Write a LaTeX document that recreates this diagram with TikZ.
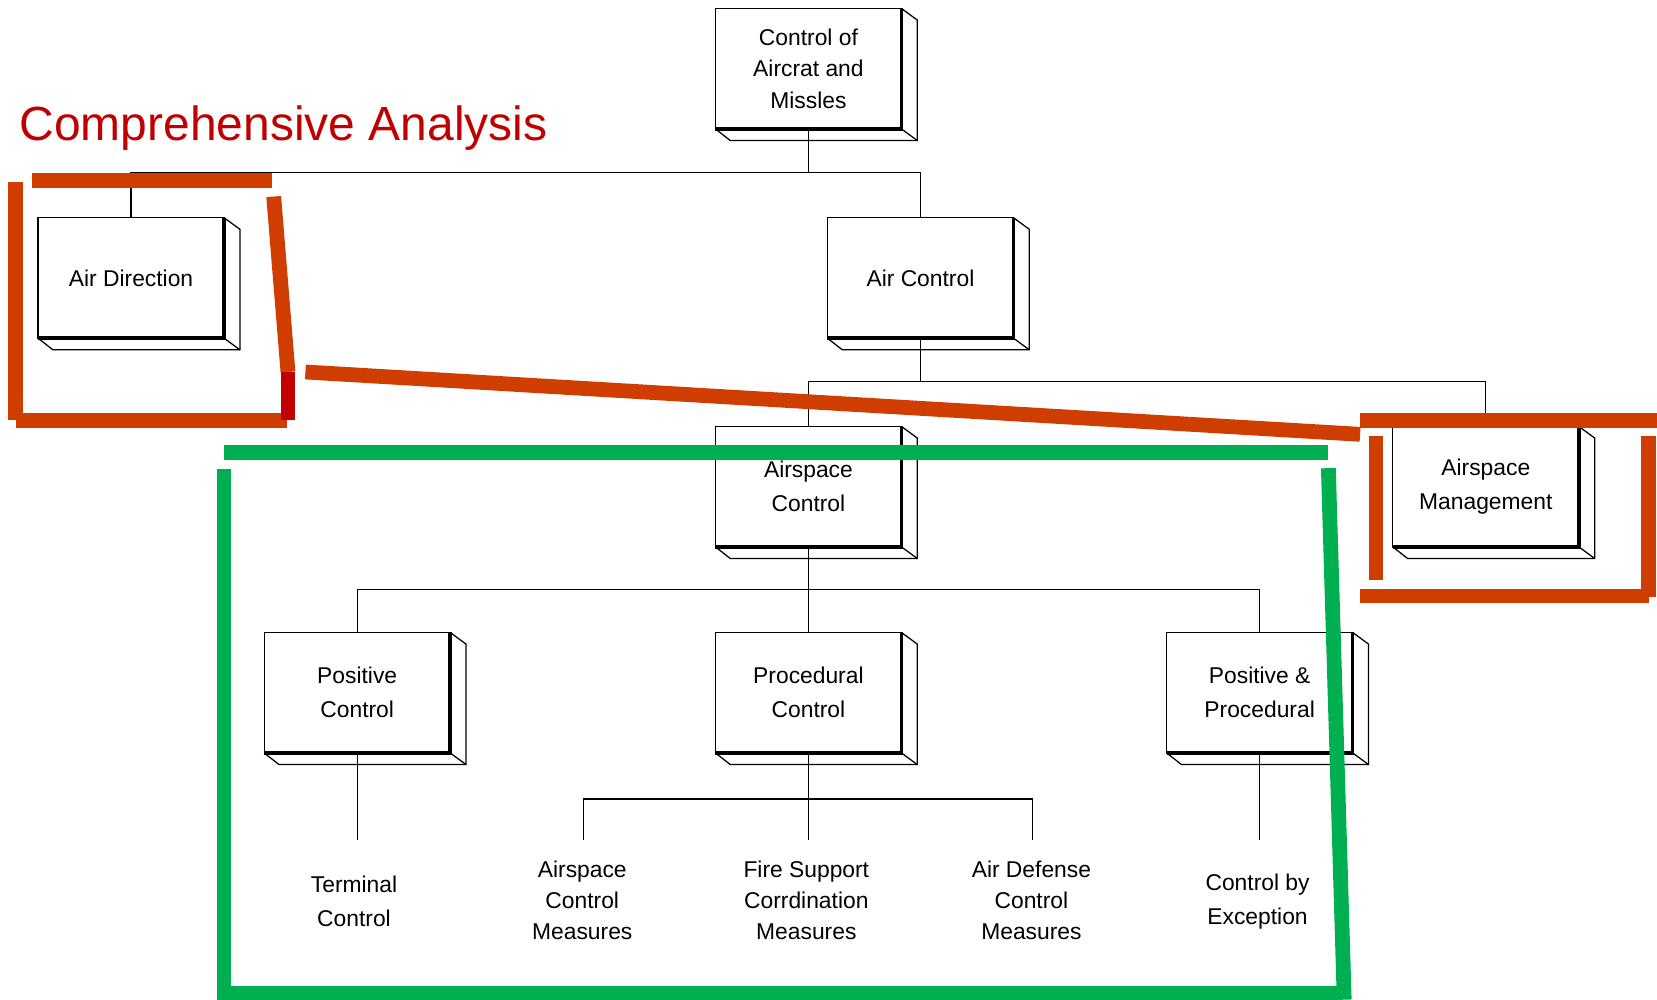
\documentclass[tikz,border=0pt]{standalone}
\usepackage{fontspec}
\setmainfont{Liberation Sans}
\usetikzlibrary{calc}
\definecolor{annred}{RGB}{207,62,0}
\definecolor{annderk}{RGB}{192,0,0}
\definecolor{anngreen}{RGB}{0,176,80}
\definecolor{titlered}{RGB}{192,0,0}
\tikzset{
  box/.style={draw, line width=0.6pt, minimum width=88pt, minimum height=57pt, inner sep=0pt, outer sep=0pt, align=center, font=\fontsize{10.8}{16.2}\selectfont},
  leaf/.style={align=center, inner sep=0pt, font=\fontsize{10.8}{15}\selectfont},
  conn/.style={line width=0.6pt},
  thickedge/.style={line width=1.6pt},
  bar/.style={line width=7pt},
}
\newcommand\boxdepth[1]{%
  \draw[conn] (#1.north east) -- ++(15,11) -- ($(#1.south east)+(15,11)$) -- ($(#1.south west)+(14,11)$) -- (#1.south west);
  \draw[conn] (#1.south east) -- ++(15,11);
  \draw[thickedge] (#1.north east) -- (#1.south east) -- (#1.south west);
}
\begin{document}
\begin{tikzpicture}[x=0.5pt,y=-0.5pt]
\useasboundingbox (0,0) rectangle (1568,946);

% title
\node[anchor=base west, inner sep=0pt, text=titlered, font=\fontsize{22.7}{26}\selectfont] (title) at (18,133) {Comprehensive Analysis};

% boxes
\node[box, font=\fontsize{10.8}{14.8}\selectfont] (top) at (765,65) {Control of\\Aircrat and\\Missles};
\node[box] (airdir) at (124,263) {Air Direction};
\node[box] (airctl) at (871,263) {Air Control};
\node[box] (aspctl) at (765,460.5) {Airspace\\Control};
\node[box] (aspmgt) at (1406,460.5) {Airspace\\Management};
\node[box] (posctl) at (338,655.5) {Positive\\Control};
\node[box] (procctl) at (765,655.5) {Procedural\\Control};
\node[box] (pospro) at (1192,655.5) {Positive \&\\Procedural};
\foreach \n in {top,airdir,airctl,aspctl,aspmgt,posctl,procctl,pospro} {\boxdepth{\n}}

% leaf texts
\node[leaf, font=\fontsize{10.8}{16}\selectfont] (term) at (335,853) {Terminal\\Control};
\node[leaf, font=\fontsize{10.8}{14.8}\selectfont] (acm) at (551,852) {Airspace\\Control\\Measures};
\node[leaf, font=\fontsize{10.8}{14.8}\selectfont] (fscm) at (763,852) {Fire Support\\Corrdination\\Measures};
\node[leaf, font=\fontsize{10.8}{14.8}\selectfont] (adcm) at (976,852) {Air Defense\\Control\\Measures};
\node[leaf, font=\fontsize{10.8}{16}\selectfont] (cbe) at (1190,853) {Control by\\Exception};

% connectors
\coordinate (b1) at (765,163);
\coordinate (b2) at (871,361);
\coordinate (b3) at (765,558);
\coordinate (b4) at (765,756);
\coordinate (e0) at (338,795);
\coordinate (e1) at (552,795);
\coordinate (e2) at (765,795);
\coordinate (e3) at (977,795);
\coordinate (e4) at (1192,795);
\draw[conn] (top.south) -- (b1);
\draw[conn] (airdir.north) |- (b1) -| (airctl.north);
\draw[conn] (airctl.south) -- (b2);
\draw[conn] (aspctl.north) |- (b2) -| (aspmgt.north);
\draw[conn] (aspctl.south) -- (procctl.north);
\draw[conn] (posctl.north) |- (b3) -| (pospro.north);
\draw[conn] (posctl.south) -- (e0);
\draw[conn] (procctl.south) -- (e2);
\draw[conn] (e1) |- (b4) -| (e3);
\draw[conn] (pospro.south) -- (e4);

% orange-red annotation (left group)
\draw[bar, annred] (30,171) -- (257,171);
\draw[bar, annred] (15,172) -- (15,397);
\draw[bar, annred] (15,398) -- (272,398);
\draw[bar, annred] (259,186) -- (272.5,352);
\draw[bar, annderk] (272.5,352) -- (272.5,397);
\draw[bar, annred] (289,352) -- (1287,411);
% right group
\draw[bar, annred] (1287,398) -- (1568,398);
\draw[bar, annred] (1302,413) -- (1302,549);
\draw[bar, annred] (1287,564) -- (1560,564);
\draw[bar, annred] (1560,413) -- (1560,565);

% green annotation
\draw[bar, anngreen] (212,428) -- (1257,428);
\draw[bar, anngreen] (212,444) -- (212,946);
\draw[bar, anngreen] (205,940) -- (1265,940);
\draw[bar, anngreen] (1257,443) -- (1272,946);
\end{tikzpicture}
\end{document}
